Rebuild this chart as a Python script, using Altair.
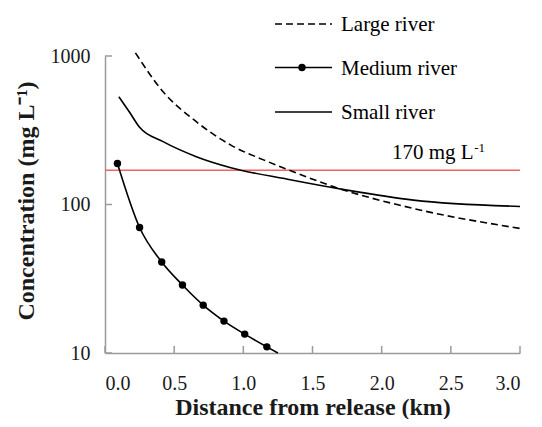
import altair as alt
import pandas as pd

# ---- data ----
large_x = [0.22, 0.42, 0.66, 0.91, 1.15, 1.32, 1.65, 2.23, 3.0]
large_y = [1050, 575, 361, 251, 199, 172, 132, 94, 69]

small_x = [0.10, 0.18, 0.25, 0.42, 0.66, 0.91, 1.32, 1.75, 2.23, 3.0]
small_y = [532, 415, 331, 265, 210, 177, 148, 125, 107, 97]

medium_x = [0.09, 0.25, 0.41, 0.56, 0.71, 0.86, 1.01, 1.17]
medium_y = [189, 70, 41, 28.7, 21, 16.4, 13.4, 11.0]
medium_line_end_x = [1.25]
medium_line_end_y = [10]

threshold = [170]
threshold_label = ["170 mg L"]
threshold_sup = ["-1"]

x_ticks = [0.0, 0.5, 1.0, 1.5, 2.0, 2.5, 3.0]
y_ticks = [10, 100, 1000]

legend_labels = ["Large river", "Medium river", "Small river"]

W, H = 415, 297
SERIF = "Liberation Serif"

large_df = pd.DataFrame({"x": large_x, "y": large_y})
small_df = pd.DataFrame({"x": small_x, "y": small_y})
med_pts = pd.DataFrame({"x": medium_x, "y": medium_y})
med_line = pd.DataFrame({"x": medium_x + medium_line_end_x, "y": medium_y + medium_line_end_y})
thr_df = pd.DataFrame({"y": threshold})
thr_lab = pd.DataFrame({"x": [2.665], "y": threshold, "t": threshold_label, "s": threshold_sup})
xt_df = pd.DataFrame({"x": x_ticks})
yt_df = pd.DataFrame({"y": y_ticks})

xscale = alt.Scale(domain=[0, 3], nice=False, zero=False)
yscale = alt.Scale(type="log", domain=[10, 1000], nice=False)

X = alt.X("x:Q", scale=xscale,
          axis=alt.Axis(values=x_ticks, format=".1f", title="Distance from release (km)",
                        ticks=False, grid=False, labelPadding=20,
                        titleY=61, titleBaseline="alphabetic", titleAnchor="middle"))
Y = alt.Y("y:Q", scale=yscale,
          axis=alt.Axis(values=y_ticks, format="d", title="Concentration (mg L⁻¹)",
                        ticks=False, grid=False, labelPadding=15,
                        titleX=-79, titleY=144.5, titleAngle=270,
                        titleAlign="center", titleBaseline="middle"))

red = alt.Chart(thr_df).mark_rule(color="#ef6461", strokeWidth=1.6).encode(
    y=alt.Y("y:Q", scale=yscale))

large = alt.Chart(large_df).mark_line(color="black", strokeWidth=1.6, strokeDash=[7, 4],
                                      interpolate="monotone").encode(x=X, y=Y)
small = alt.Chart(small_df).mark_line(color="black", strokeWidth=1.6,
                                      interpolate="monotone").encode(x=X, y=Y)
medl = alt.Chart(med_line).mark_line(color="black", strokeWidth=1.6,
                                     interpolate="monotone").encode(x=X, y=Y)
medp = alt.Chart(med_pts).mark_point(filled=True, color="black", size=55, opacity=1).encode(x=X, y=Y)

thr_text = alt.Chart(thr_lab).mark_text(align="right", baseline="alphabetic", dy=-11,
                                        font=SERIF, fontSize=21, color="black").encode(
    x=alt.X("x:Q", scale=xscale), y=alt.Y("y:Q", scale=yscale), text="t:N")
thr_sup = alt.Chart(thr_lab).mark_text(align="left", baseline="alphabetic", dy=-18, dx=0.5,
                                       font=SERIF, fontSize=13, color="black").encode(
    x=alt.X("x:Q", scale=xscale), y=alt.Y("y:Q", scale=yscale), text="s:N")

xticks = alt.Chart(xt_df).mark_rule(color="#9a9a9a", strokeWidth=1.5).encode(
    x=alt.X("x:Q", scale=xscale), y=alt.value(H), y2=alt.value(H - 7))
yticks = alt.Chart(yt_df).mark_rule(color="#9a9a9a", strokeWidth=1.5).encode(
    y=alt.Y("y:Q", scale=yscale), x=alt.value(0), x2=alt.value(7))

# legend (manual, positioned above the plot)
leg_y = [-32, 11.5, 56]
leg_parts = []
one = pd.DataFrame({"k": [0]})
for i, lab in enumerate(legend_labels):
    style = dict(color="black", strokeWidth=1.6)
    if i == 0:
        style["strokeDash"] = [7, 4]
    leg_parts.append(alt.Chart(one).mark_rule(**style).encode(
        x=alt.value(170), x2=alt.value(227), y=alt.value(leg_y[i])))
    leg_parts.append(alt.Chart(pd.DataFrame({"t": [lab]})).mark_text(
        align="left", baseline="middle", font=SERIF, fontSize=21, color="black").encode(
        x=alt.value(236), y=alt.value(leg_y[i] + 1), text="t:N"))
leg_parts.append(alt.Chart(one).mark_point(filled=True, color="black", size=55, opacity=1).encode(
    x=alt.value(197), y=alt.value(leg_y[1])))

chart = alt.layer(red, large, small, medl, medp, thr_text, thr_sup, xticks, yticks, *leg_parts).properties(
    width=W, height=H,
    background="white",
    autosize=alt.AutoSizeParams(type="none"),
    padding={"left": 97, "top": 48, "right": 14, "bottom": 66},
).configure_view(stroke=None).configure_axis(
    domainColor="#9a9a9a", domainWidth=1.5,
    labelFont=SERIF, labelFontSize=20, labelColor="#1a1a1a",
    titleFont=SERIF, titleFontSize=24, titleFontWeight="bold", titleColor="#1a1a1a",
)

chart.save("out.html", embed_options={"renderer": "svg", "actions": False})
